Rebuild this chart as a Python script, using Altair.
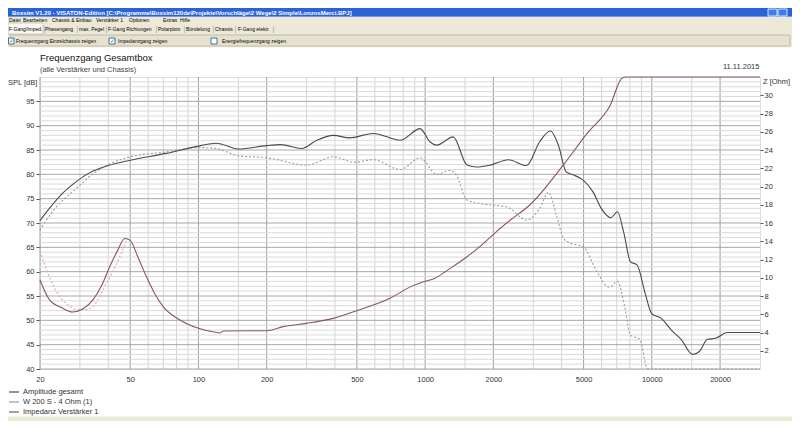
import pandas as pd
import altair as alt

# Boxsim "Frequenzgang Gesamtbox"

amp_freq = [20, 22, 25, 28, 33, 40, 50, 72, 100, 120, 150, 200, 230, 285, 333, 394, 464,
            590, 778, 950, 1050, 1125, 1330, 1530, 1690, 1940, 2330, 2800, 3200, 3570,
            3870, 4190, 4500, 4980, 5500, 5980, 6600, 7050, 7530, 8050, 8600, 9340, 9980,
            11000, 12200, 13500, 15150, 16200, 17600, 19100, 21500, 30000]
amp_spl = [70.5, 73.0, 76.0, 78.0, 80.3, 81.8, 82.9, 84.3, 85.8, 86.4, 85.2, 85.9, 86.1, 85.3, 87.0, 88.0, 87.5,
           88.4, 87.0, 89.4, 86.7, 86.0, 87.7, 81.9, 81.5, 81.9, 83.0, 81.8, 86.7, 88.9,
           86.0, 80.5, 79.9, 78.8, 76.4, 73.0, 71.1, 72.3, 67.9, 62.0, 61.4, 55.6, 51.4,
           50.4, 48.0, 46.0, 43.0, 43.6, 46.1, 46.3, 47.5, 47.5]

drv_freq = [20, 22, 25, 28, 33, 40, 50, 72, 100, 120, 150, 200, 300, 394, 485, 590, 778, 950,
            1125, 1290, 1370, 1530, 1750, 2300, 2800, 3200, 3500, 3800, 4080, 4300, 4990,
            5680, 6500, 7050, 7540, 8050, 8870, 9460, 9700, 30000]
drv_spl = [68.5, 71.5, 74.5, 76.5, 79.5, 82.0, 83.6, 84.6, 85.5, 85.3, 83.8, 83.4, 81.9, 83.6, 82.5, 83.0, 81.0, 83.4,
           80.0, 80.8, 79.9, 74.7, 74.0, 73.3, 70.6, 73.0, 76.3, 71.5, 66.8, 66.0, 65.1,
           60.3, 56.8, 58.0, 53.5, 47.0, 46.0, 40.5, 40.0, 40.0]

imp_freq = [20, 22, 25, 27.8, 31, 34.3, 37.5, 40.6, 44, 47.3, 50, 54, 59, 64, 70, 82.5, 100,
            122, 125, 128, 168, 200, 236, 300, 393, 510, 700, 860, 985, 1100, 1285, 1530,
            1815, 2030, 2370, 2900, 4080, 5170, 6550, 7400, 7700, 30000]
imp_z = [9.75, 7.6, 6.7, 6.25, 6.6, 7.6, 9.2, 11.2, 13.0, 14.3, 14.1, 12.3, 10.1, 8.3, 6.8, 5.4, 4.46,
         3.98, 3.95, 4.16, 4.2, 4.2, 4.64, 5.0, 5.55, 6.47, 7.75, 9.0, 9.57, 9.93, 11.0, 12.3,
         13.8, 14.9, 16.3, 18.0, 22.4, 25.8, 28.9, 31.9, 32.0, 32.0]

drv_imp_freq = [20, 22, 24.5, 27, 29, 31, 34, 39.3, 45, 48]
drv_imp_z = [12.9, 10.1, 7.9, 6.9, 6.5, 6.5, 6.8, 9.4, 12.3, 14.0]

series_names = ["Amplitude gesamt", "W 200 S - 4 Ohm (1)", "Impedanz Verstärker 1",
                "Impedanz W 200 S - 4 Ohm (1)"]
series_colors = ["#4a4a4a", "#9c9ca8", "#8a5462", "#d9a9b6"]

freq_labels = [20, 50, 100, 200, 500, 1000, 2000, 5000, 10000, 20000]
freq_minor = [30, 40, 60, 70, 80, 90, 150, 300, 400, 600, 700, 800, 900, 1500,
              3000, 4000, 6000, 7000, 8000, 9000, 15000]
spl_labels = [40, 45, 50, 55, 60, 65, 70, 75, 80, 85, 90, 95]
spl_minor = [v for v in range(41, 100) if v % 5]
z_labels = [2, 4, 6, 8, 10, 12, 14, 16, 18, 20, 22, 24, 26, 28, 30]

window_title = ("Boxsim V1.20 - VISATON-Edition [C:\\Programme\\Boxsim120de\\Projekte\\"
                "Vorschläge\\2 Wege\\2 Simple\\LonzosMerci.BPJ]")
menu_items = ["Datei", "Bearbeiten", "Chassis & Einbau", "Verstärker 1", "Optionen", "Extras", "Hilfe"]
tab_items = ["F-Gang/Imped.", "Phasengang", "max. Pegel", "F-Gang Richtungen", "Polarplots",
             "Bündelung", "Chassis", "F-Gang elektr."]
check_items = ["Frequenzgang Einzelchassis zeigen", "Impedanzgang zeigen", "Energiefrequenzgang zeigen"]

FONT = "Liberation Sans"
ORIGIN = (40, 77)  # page pixel of the plot's top-left corner


def main():
    x_scale = alt.Scale(type="log", domain=[20, 30000], nice=False)
    spl_scale = alt.Scale(domain=[40, 100], nice=False, zero=False)
    z_scale = alt.Scale(domain=[0, 32], nice=False)

    legend = alt.Legend(orient="none", legendX=-32, legendY=309, title=None,
                        values=series_names[:3], symbolType="stroke", symbolSize=100,
                        symbolStrokeWidth=1.2, labelFontSize=7.5, labelColor="#333",
                        labelFont=FONT, rowPadding=-1, labelOffset=3, padding=0)
    color = alt.Color("series:N", scale=alt.Scale(domain=series_names, range=series_colors), legend=legend)

    axis_style = dict(title=None, grid=False, domain=False, labelFontSize=7.5,
                      labelColor="#333", labelFont=FONT, tickColor="#555")
    x_axis = alt.Axis(orient="bottom", values=freq_labels, format="d", ticks=False, labelPadding=6,
                      labelFlush=False, labelOverlap=False, **axis_style)
    spl_axis = alt.Axis(orient="left", values=spl_labels, tickSize=4, labelPadding=2, **axis_style)
    z_axis = alt.Axis(orient="right", values=z_labels, tickSize=3, labelPadding=1, **axis_style)

    # grid lines
    vminor = alt.Chart(pd.DataFrame({"f": freq_minor})).mark_rule(color="#d4d4d4").encode(
        x=alt.X("f:Q", scale=x_scale, axis=None))
    vmajor = alt.Chart(pd.DataFrame({"f": freq_labels})).mark_rule(color="#9e9e9e").encode(
        x=alt.X("f:Q", scale=x_scale, axis=x_axis))
    hminor = alt.Chart(pd.DataFrame({"v": spl_minor})).mark_rule(color="#dadada").encode(
        y=alt.Y("v:Q", scale=spl_scale, axis=None))
    hmajor = alt.Chart(pd.DataFrame({"v": spl_labels})).mark_rule(color="#a8a8a8").encode(
        y=alt.Y("v:Q", scale=spl_scale, axis=spl_axis))

    def line(freq, vals, name, y_scale, dotted, axis=None):
        df = pd.DataFrame({"f": freq, "v": vals, "series": name})
        style = {"strokeDash": [2, 2]} if dotted else {}
        return alt.Chart(df).mark_line(strokeWidth=1.1, interpolate="monotone", **style).encode(
            x=alt.X("f:Q", scale=x_scale, axis=None),
            y=alt.Y("v:Q", scale=y_scale, axis=axis),
            color=color)

    amp_line = line(amp_freq, amp_spl, series_names[0], spl_scale, False)
    drv_line = line(drv_freq, drv_spl, series_names[1], spl_scale, True)
    imp_line = line(imp_freq, imp_z, series_names[2], z_scale, False, z_axis)
    drv_imp_line = line(drv_imp_freq, drv_imp_z, series_names[3], z_scale, True)

    # window chrome and free texts, in page pixels
    ox, oy = ORIGIN
    rects = [
        (8, 792, 8, 17, "#2b63d9", "#2b63d9"),
        (8, 792, 17, 47, "#ece9d8", "#ece9d8"),
        (8, 43, 23, 34, "#f8f7f2", "#c4c0ac"),
        (10, 790, 35, 46, "#e6e2d2", "#b5b19f"),
        (8.5, 14, 38, 44, "#ffffff", "#1c5180"),
        (109, 115, 38, 44, "#ffffff", "#1c5180"),
        (211, 217, 38, 44, "#ffffff", "#1c5180"),
        (768, 777, 9, 16, "#3c7cf0", "#ffffff"),
        (778, 787, 9, 16, "#3c7cf0", "#ffffff"),
        (8, 792, 417, 421, "#ece9d8", "#ece9d8"),
    ]
    rect_df = pd.DataFrame(rects, columns=["x", "x2", "y", "y2", "fill", "stroke"])
    rect_df[["x", "x2"]] -= ox
    rect_df[["y", "y2"]] -= oy
    chrome = alt.Chart(rect_df).mark_rect(strokeWidth=0.8).encode(
        x=alt.X("x:Q", scale=None), x2="x2", y=alt.Y("y:Q", scale=None), y2="y2",
        fill=alt.Fill("fill:N", scale=None), stroke=alt.Stroke("stroke:N", scale=None))

    menu_x = [9, 23, 52, 96, 129, 163, 180]
    tab_x = [8.8, 45, 79, 108, 158, 186, 215, 238]
    sep_x = [43.5, 76.5, 105.5, 155.5, 183.5, 212.5, 234.5, 272.5]
    check_x = [16, 118, 222]
    texts = [(x, 20, t, 5, "#000") for x, t in zip(menu_x, menu_items)]
    texts += [(x, 28.5, t, 5, "#000") for x, t in zip(tab_x, tab_items)]
    texts += [(x, 28.5, "|", 7, "#999") for x in sep_x]
    texts += [(x, 41, t, 5, "#000") for x, t in zip(check_x, check_items)]
    texts += [(9.3, 41, "✓", 6, "#1f7a1f"), (109.8, 41, "✓", 6, "#1f7a1f")]
    texts += [
        (40, 58, "Frequenzgang Gesamtbox", 9.5, "#111"),
        (40, 70, "(alle Verstärker und Chassis)", 7.5, "#444"),
        (723, 67, "11.11.2015", 7.5, "#333"),
        (8, 83, "SPL [dB]", 7.5, "#333"),
        (763, 82, "Z [Ohm]", 7.5, "#333"),
    ]
    text_df = pd.DataFrame(texts, columns=["x", "y", "text", "size", "color"])
    text_df["x"] -= ox
    text_df["y"] -= oy
    labels = alt.Chart(text_df).mark_text(align="left", baseline="middle", font=FONT).encode(
        x=alt.X("x:Q", scale=None), y=alt.Y("y:Q", scale=None), text="text:N",
        size=alt.Size("size:Q", scale=None), fill=alt.Fill("color:N", scale=None))
    title_bar = alt.Chart(pd.DataFrame({"text": [window_title]})).mark_text(
        align="left", baseline="middle", font=FONT, fontWeight="bold", fontSize=6, color="white").encode(
        x=alt.value(12 - ox), y=alt.value(12.5 - oy), text="text:N")

    chart = alt.layer(
        chrome, labels, title_bar,
        vminor, vmajor, hminor, hmajor,
        drv_line, amp_line, drv_imp_line, imp_line,
    ).resolve_scale(x="independent", y="independent").properties(
        width=720, height=292, autosize="none",
        padding={"left": 32, "top": 69, "right": 32, "bottom": 52},
        background="white",
    ).configure_view(stroke="#8a8a8a").configure(font=FONT)

    chart.save("out.html", embed_options={"renderer": "svg", "actions": False})


if __name__ == "__main__":
    main()
